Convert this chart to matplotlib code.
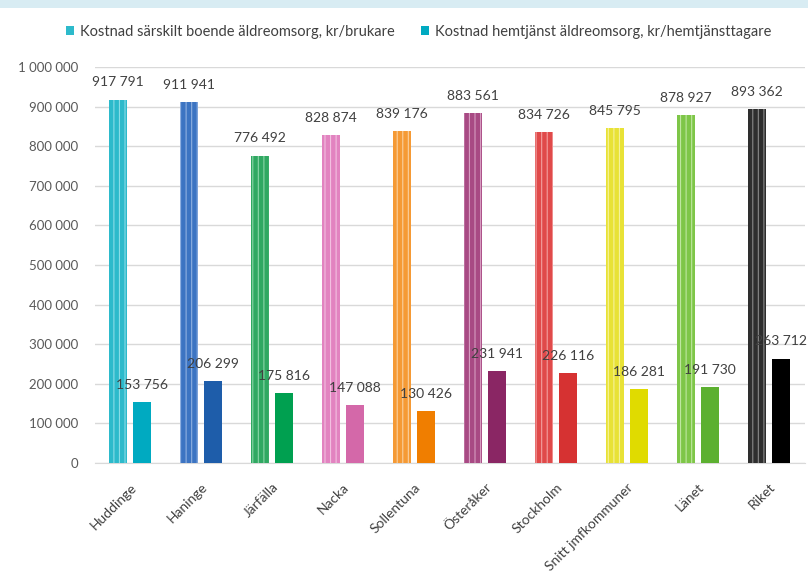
import matplotlib.pyplot as plt
import numpy as np
from matplotlib.patches import Patch, Rectangle

# -------------------------------
# Data
# -------------------------------
kommuner = ["Huddinge", "Haninge", "Järfälla", "Nacka", "Sollentuna",
            "Österåker", "Stockholm", "Snitt jmfkommuner", "Länet", "Riket"]
sarskilt_boende = [917791, 911941, 776492, 828874, 839176,
                   883561, 834726, 845795, 878927, 893362]
hemtjanst = [153756, 206299, 175816, 147088, 130426,
             231941, 226116, 186281, 191730, 263712]

legend_labels = ["Kostnad särskilt boende äldreomsorg, kr/brukare",
                 "Kostnad hemtjänst äldreomsorg, kr/hemtjänsttagare"]

# colours per kommun: (patterned bar, solid bar)
light_colors = ["#2DBACB", "#3C74C2", "#30A862", "#E283C0", "#F59A35",
                "#A84A84", "#E04A4A", "#E8E236", "#7EC648", "#2E2E2E"]
solid_colors = ["#00AAC1", "#1E5DAA", "#00A050", "#D468A9", "#F07E00",
                "#8A2664", "#D63232", "#E0DB00", "#5CB030", "#000000"]
hatch_colors = ["#8ADCE6", "#8FB0E0", "#8AD6A8", "#F2C0E0", "#FAD0A0",
                "#D69CC0", "#F2A0A0", "#F6F29A", "#BEE6A0", "#8A8A8A"]


def fmt(v):
    return f"{v:,.0f}".replace(",", " ")


plt.rcParams['font.family'] = ['Lato', 'DejaVu Sans']
plt.rcParams['hatch.linewidth'] = 0.8

fig = plt.figure(figsize=(8.08, 5.86), dpi=100)
ax = fig.add_axes([94.5 / 808, 123 / 586, 710 / 808, 396 / 586])

# top band (cropped title strip)
fig.patches.append(Rectangle((0, 1 - 8 / 586), 1, 8 / 586, transform=fig.transFigure,
                             facecolor="#D8ECF3", edgecolor="none", zorder=0))

x = np.arange(len(kommuner))
w = 0.26
off = 0.17

for i in range(len(kommuner)):
    ax.bar(x[i] - off, sarskilt_boende[i], w, color=light_colors[i],
           edgecolor=hatch_colors[i], linewidth=0, hatch="|||", zorder=3)
    ax.bar(x[i] + off, hemtjanst[i], w, color=solid_colors[i],
           linewidth=0, zorder=3)
    ax.annotate(fmt(sarskilt_boende[i]), (x[i] - off, sarskilt_boende[i]),
                xytext=(0, 8), textcoords="offset points", ha="center", va="bottom",
                fontsize=10, color="#404040", zorder=5)
    ax.annotate(fmt(hemtjanst[i]), (x[i] + off, hemtjanst[i]),
                xytext=(0, 8), textcoords="offset points", ha="center", va="bottom",
                fontsize=10, color="#404040", zorder=5)

ax.set_xlim(-0.5, len(kommuner) - 0.5)
ax.set_ylim(0, 1000000)
ax.set_yticks(np.arange(0, 1000001, 100000))
ax.set_yticklabels([fmt(v) for v in np.arange(0, 1000001, 100000)],
                   fontsize=9.5, color="#595959")
ax.set_xticks(x)
ax.set_xticklabels(kommuner, rotation=45, ha="right", rotation_mode="anchor",
                   fontsize=10, color="#404040")
ax.tick_params(axis="both", length=0)
ax.tick_params(axis="y", pad=12)
ax.tick_params(axis="x", pad=13)

ax.grid(axis="y", color="#D9D9D9", linewidth=1, zorder=0)
for s in ["top", "right", "left"]:
    ax.spines[s].set_visible(False)
ax.spines["bottom"].set_color("#D9D9D9")

handles = [Patch(facecolor="#2DBACB"), Patch(facecolor="#00AAC1")]
fig.legend(handles, legend_labels, loc="center", bbox_to_anchor=(0.518, 1 - 32 / 586),
           ncol=2, frameon=False, fontsize=10.5, handlelength=0.55, handleheight=0.55,
           handletextpad=0.4, columnspacing=1.8, labelcolor="#404040")

fig.savefig("out.png", dpi=100)
